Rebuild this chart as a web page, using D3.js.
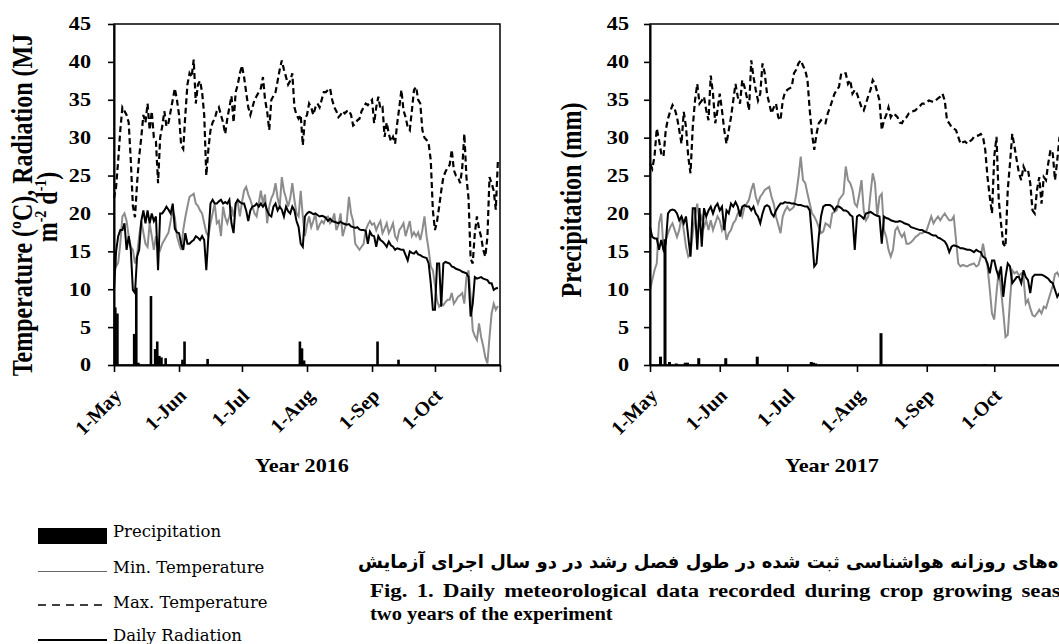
<!DOCTYPE html>
<html>
<head>
<meta charset="utf-8">
<script src="https://cdn.jsdelivr.net/npm/d3@7"></script>
<style>
  body { margin: 0; background: #fff; }
  svg { display: block; }
</style>
</head>
<body>
<svg id="fig" width="1059" height="644"></svg>
<script>
// daily values, index 0 = 1 May (184 days, to 31 Oct)
const tmax2016 = [
  22, 23.5, 27, 31, 34, 33.5, 33, 32, 27, 21,
  19.5, 24, 27.5, 30, 33, 32, 34.5, 31, 33.5, 30,
  29.5, 24, 30, 31.5, 33.5, 31.5, 32, 33.5, 35, 36.5,
  35, 33, 29, 28.5, 33, 37, 38.5, 38, 40.3, 34.5,
  37, 37.5, 36, 33, 25, 28.5, 31, 32, 32.5, 33.5,
  34, 33, 32, 30.5, 32.5, 34, 35.5, 32, 36, 37,
  38.5, 39.5, 38, 36, 34, 33, 34, 35, 35.5, 36,
  36.5, 38, 35, 33.5, 31, 35, 35.5, 36, 37.5, 39,
  40.2, 39, 38, 37, 37.5, 38.5, 34, 33, 32.5, 33,
  29, 32.5, 33, 34.5, 34, 33, 34, 34.5, 34, 35,
  36, 36, 36.3, 36.5, 35, 34, 33.5, 32.7, 33, 33.5,
  33.2, 33.5, 33.6, 33, 31.6, 31.8, 32.3, 32.5, 33.5, 34,
  34.5, 34.3, 34.7, 35, 31.9, 34, 35.4, 33.8, 34, 30.1,
  32, 30.5, 29.5, 30.1, 29.2, 31.9, 34, 36.3, 33.6, 32.7,
  31.4, 31, 33.6, 36.3, 36.7, 35, 34.5, 31, 30, 29.7,
  29.2, 27, 20.4, 17.8, 19, 20.9, 23, 24.8, 25.5, 26,
  26.4, 28.4, 25.7, 25, 24.8, 24, 26, 30.5, 24.8, 22,
  14, 13.4, 17.4, 19.6, 18, 16.9, 15.2, 14.3, 16.9, 24.8,
  24, 23, 20.5, 27
];
const tmin2016 = [
  15, 13, 13.5, 16, 19.6, 20, 19, 17, 15.6, 15.2,
  13.4, 14.5, 17, 19, 17.5, 16, 15.6, 18.7, 17, 15.2,
  17, 16, 15.2, 16, 16.5, 17, 17.5, 19, 20.4, 19.5,
  17, 16, 15.2, 17.8, 19.5, 20.9, 22.2, 22.4, 22.6, 21.3,
  21, 20.4, 20, 18.7, 17.5, 17, 18.7, 20, 21.3, 18.7,
  19, 17, 20.9, 19.5, 18.7, 19.6, 20.9, 19.6, 21.3, 21.5,
  19.6, 21.5, 23, 23.5, 22.5, 21.8, 20.9, 20, 19.6, 21.3,
  23, 21.3, 22.5, 18.7, 20.9, 22, 22.6, 24, 22, 20.9,
  24.8, 23, 22, 20.9, 22, 24, 21.8, 20, 19.6, 23,
  19.6, 17, 18.5, 19.6, 18.2, 19, 20, 17.8, 18.5, 19,
  18.7, 19.5, 19.6, 18.7, 19, 20, 17.8, 18.5, 20, 17,
  18, 19, 22.2, 20, 19, 16, 15.6, 15.2, 15.6, 16,
  17.8, 18.5, 19, 18.5, 18.7, 17.8, 18.5, 19, 17.4, 18,
  18.7, 17.4, 18, 18.7, 17, 16.5, 17.8, 18.2, 18.7, 17,
  18, 19, 17, 17.5, 17, 17.5, 16.5, 17.8, 19.6, 17,
  15.2, 13, 12.5, 10.5, 8.5, 7.7, 8.1, 7.9, 8.3, 8.6,
  8.6, 9.5, 8.1, 8.5, 9, 9.2, 9.5, 8.1, 11.6, 12.5,
  9, 4.6, 3.8, 3.3, 5.5, 3.7, 2.5, 1, 0.2, 3.7,
  6.8, 8.1, 7.3, 7.8
];
const rad2016 = [
  9.9, 15, 17, 17.8, 17.8, 18.7, 15.2, 17, 15.2, 9.9,
  9.5, 14.3, 15.2, 19, 20.4, 18.7, 20.4, 18.7, 20, 19,
  19.6, 12.5, 20, 20, 20.4, 20.9, 20.5, 20, 21.3, 18,
  17.5, 17.4, 16, 15.2, 17.4, 16, 16, 16.3, 16.5, 17,
  16.8, 16.5, 17, 16.5, 12.5, 17, 21.3, 21.8, 21.3, 21.3,
  21.6, 21.8, 21.3, 21.5, 21.3, 21.8, 18.7, 17.4, 21.3, 21.8,
  21.5, 21.3, 21.3, 20.4, 19, 20.4, 20.9, 21, 21.3, 20.9,
  21.3, 20.9, 21.3, 20.4, 19.8, 19.6, 20.9, 21.3, 20.4, 20.9,
  20.5, 19.6, 20.9, 20.3, 20, 20.9, 20.4, 19, 18.2, 16,
  15.6, 19.6, 20, 20.2, 20.1, 19.9, 20, 19.8, 19.6, 19.7,
  19.6, 19.4, 19, 19.3, 19, 18.9, 18.8, 18.7, 18.9, 18.7,
  18.6, 18.5, 18.6, 18.3, 18.2, 18.1, 18.2, 17.9, 17.8, 17.8,
  17.7, 16, 17.6, 17.1, 17, 15.6, 17, 16.5, 16.3, 16,
  15.6, 16.3, 15.8, 15.6, 15.2, 15.4, 15.3, 15.2, 15.2, 14.5,
  13.8, 15, 14.8, 14.7, 15, 14.6, 14.5, 14.3, 14.2, 14.1,
  13.4, 10.8, 7.3, 7.3, 13.4, 13.4, 7.7, 13.4, 13.6, 13.5,
  13.4, 13, 12.9, 12.7, 12.6, 12.5, 12.3, 12.2, 12.1, 11.6,
  6.4, 8.1, 11.6, 11.4, 11.5, 11.6, 11.4, 11.3, 11.2, 10.8,
  10.8, 9.9, 10.1, 10.2
];
const rainDay2016 = [0, 1, 9, 10, 11, 17, 19, 20, 21, 22, 24, 32, 33, 44, 88, 89, 90, 125, 135];
const rain2016 = [7.6, 6.8, 4.1, 10.2, 0.3, 9.1, 2.1, 3.1, 1.2, 1.0, 0.9, 0.7, 3.1, 0.8, 3.1, 2.2, 0.6, 3.1, 0.7];

const tmax2017 = [
  26.6, 25.9, 27.5, 31.2, 29.7, 27.9, 27.5, 31, 32.5, 33.5,
  34.3, 33.8, 32.7, 31, 29.2, 33.4, 31.4, 27.5, 25.3, 31.4,
  34.9, 37.1, 34.5, 34.9, 35.4, 33.6, 32.3, 38.2, 35.8, 31.9,
  33.6, 35.8, 33.6, 31, 29.2, 31, 32.7, 34.9, 37.1, 35.4,
  34.5, 37.6, 36.7, 35.4, 33.6, 40.2, 38, 36.3, 34.9, 35.8,
  39.8, 38.5, 35.8, 34.5, 33.2, 34, 34.5, 32.7, 32.3, 34.9,
  36, 36.3, 36.5, 36.7, 38.5, 39, 39.8, 40.2, 39.5, 38.9,
  37.6, 33.6, 30.5, 28.4, 30.5, 31.9, 32.3, 32, 31.9, 33.2,
  34, 34.9, 35.8, 36.3, 36.7, 38.5, 38.5, 38.5, 37.1, 37.6,
  35.8, 36.3, 35.8, 34.9, 34, 33.6, 34.5, 35.5, 36.3, 37.6,
  37.1, 36, 34.9, 31, 32.3, 33, 34, 32.7, 33.2, 33,
  32.7, 32, 31.9, 32.5, 32.7, 33.2, 33.4, 33.5, 33.6, 34,
  34.2, 34.5, 34.5, 34.7, 34.9, 34.8, 34.7, 34.9, 35.2, 35.4,
  35.8, 34.9, 32.3, 31.9, 31.4, 31.2, 31, 30.1, 29.2, 29.4,
  29.5, 29.2, 29.5, 29.7, 30.1, 30.2, 30.3, 30.5, 30.1, 28.4,
  24.8, 22.2, 20, 27.5, 30.1, 21.8, 18.7, 16, 15.6, 23.1,
  26.6, 30.5, 28.8, 27, 25.3, 24.4, 26.2, 25.5, 25.7, 24,
  20.4, 20, 23.1, 24.8, 21.3, 24.8, 24.4, 26.6, 28.4, 27.9,
  24.4, 27, 30.1, 29
];
const tmin2017 = [
  9.9, 11.2, 12.5, 13.4, 18.7, 20, 15.2, 16.5, 17.4, 18.2,
  18.7, 17.8, 16.9, 17.8, 19.6, 17.8, 15.6, 14.3, 14.7, 17.4,
  19.6, 21.3, 18.7, 19.6, 18.2, 19.1, 17.8, 19.1, 17.8, 18.7,
  19.6, 19.1, 17.8, 18.7, 16.5, 17.4, 17.8, 18.7, 19.1, 20,
  20.4, 19.6, 20.9, 21.3, 21.8, 23.1, 24, 22.2, 21.3, 22.2,
  22.6, 23.1, 23.3, 23.5, 22.2, 21.3, 19.6, 18.5, 17.4, 19.6,
  20.4, 20.9, 20.4, 20.6, 20.9, 22.6, 24.8, 27.5, 24.4, 24,
  22.6, 21.3, 20, 19.6, 19, 18.2, 17.4, 17.6, 18.7, 18.5,
  18.2, 20, 20.2, 20.4, 21.8, 22.2, 22.6, 26.2, 24.4, 24,
  23.1, 21.3, 20.9, 22.5, 24.4, 20.4, 19.1, 19.6, 22.6, 25.3,
  24, 19.6, 22.2, 22.6, 17.8, 16.9, 15.2, 14.3, 15.2, 17.8,
  18.2, 17.4, 16.9, 17.4, 16, 16, 16.2, 16.5, 16.9, 17.1,
  17.4, 17.4, 17.6, 17.8, 18.7, 19.6, 18.7, 19.2, 19.6, 19.1,
  19.6, 20, 19.5, 19.1, 19.1, 19.6, 16.5, 13.4, 13, 13.2,
  13.1, 13, 13.2, 13.3, 13.4, 13, 13.2, 14.3, 16, 14.3,
  13, 10, 6.8, 6, 9.5, 12.5, 10, 7, 3.7, 4,
  8.5, 12.5, 12.1, 12.3, 11.8, 12.1, 11.6, 8.1, 8.6, 7.5,
  6.6, 6.4, 6.8, 7.3, 6.8, 7.7, 7.5, 8.5, 9.5, 10.5,
  12, 12.2, 11.6, 11.8
];
const rad2017 = [
  18.2, 16.9, 16.7, 16.7, 15.2, 16.5, 15.2, 16, 20, 20.4,
  20.5, 20.4, 20, 19.1, 19.6, 18.7, 19.6, 16.9, 14.3, 20.7,
  20.7, 15.2, 20.7, 15.6, 20.7, 19.6, 20.4, 20.9, 20, 20.9,
  21.3, 20.4, 20.9, 17.8, 20.4, 20, 21.3, 20.9, 21.5, 20.9,
  19.6, 20.9, 21.1, 20.9, 20.9, 20.4, 20.9, 20, 19.6, 18.7,
  20, 20.9, 21.1, 20.9, 20, 19.6, 20.4, 20.9, 21.3, 21.3,
  21.5, 21.4, 21.4, 21.3, 21.3, 21.2, 21.1, 21.1, 21, 20.9,
  20.9, 20.4, 16.9, 13, 13.4, 16.9, 19.6, 20.9, 21.1, 21.1,
  21.1, 20.9, 20.4, 20.9, 20.9, 20.7, 20.4, 20.4, 20.2, 19.8,
  19.6, 15.2, 19.6, 19.8, 19.6, 19.3, 20, 20.1, 20.2, 20,
  19.8, 19.7, 19.6, 16, 19.6, 19.4, 19.3, 19.1, 19, 18.9,
  18.9, 19, 18.9, 18.7, 18.6, 18.5, 18.2, 18.1, 18, 17.9,
  17.8, 17.8, 17.6, 17.5, 17.4, 17.2, 17.1, 17.1, 16.8, 16.7,
  16.5, 16.3, 15.8, 14.9, 15.6, 15.8, 15.7, 15.6, 15.4, 15.4,
  15.3, 15.2, 15.2, 15.1, 14.9, 15.2, 15, 14.9, 14.3, 14.1,
  13.4, 12.1, 13.8, 13.8, 12.5, 11.6, 13, 9, 11.6, 13.4,
  13, 10.8, 11.2, 11.6, 11.6, 10.8, 12.5, 11.6, 11.2, 9.5,
  11.6, 11.9, 11.9, 11.9, 11.9, 11.8, 11.6, 11.4, 11, 10.8,
  9.9, 9, 9.5, 9.3
];
const rainDay2017 = [4, 6, 8, 11, 15, 16, 21, 33, 47, 71, 72, 73, 102, 148];
const rain2017 = [1.1, 16.6, 0.4, 0.2, 0.3, 0.3, 0.9, 0.9, 1.1, 0.4, 0.3, 0.2, 4.2, 0.1];

const monthDays = [0, 31, 61, 92, 123, 153, 184];
const monthLabels = ["1-May", "1-Jun", "1-Jul", "1-Aug", "1-Sep", "1-Oct", ""];
const yTicks = [0, 5, 10, 15, 20, 25, 30, 35, 40, 45];

const svg = d3.select("#fig");
const serif = "'Liberation Serif', 'Times New Roman', serif";
const SX = 1.2; // the figure's lettering is a bit wide

function wideText(x, y, str, size, anchor, sx) {
  return svg.append("text")
    .attr("transform", `translate(${x},${y}) scale(${sx || SX},1)`)
    .attr("text-anchor", anchor || "middle")
    .style("font-family", serif)
    .style("font-weight", "bold")
    .style("font-size", size + "px")
    .text(str);
}

function panel(o) {
  const x = d3.scaleLinear().domain([0, 184]).range([o.left, o.right]);
  const y = d3.scaleLinear().domain([0, 45]).range([365, 24]);
  const g = svg.append("g");

  g.append("rect")
    .attr("x", o.left).attr("y", y(45))
    .attr("width", o.right - o.left).attr("height", y(0) - y(45))
    .attr("fill", "none").attr("stroke", "#000").attr("stroke-width", 1.5);

  const line = d3.line().x((d, i) => x(i)).y(d => y(d));

  g.append("path").datum(o.tmin).attr("d", line)
    .attr("fill", "none").attr("stroke", "#8c8c8c").attr("stroke-width", 2);
  g.append("path").datum(o.rad).attr("d", line)
    .attr("fill", "none").attr("stroke", "#000").attr("stroke-width", 2);
  g.append("path").datum(o.tmax).attr("d", line)
    .attr("fill", "none").attr("stroke", "#000").attr("stroke-width", 2.2)
    .attr("stroke-dasharray", "6,3.5");

  g.selectAll("rect.rain")
    .data(o.rainDay)
    .join("rect")
    .attr("class", "rain")
    .attr("x", d => x(d))
    .attr("y", (d, i) => y(o.rain[i]))
    .attr("width", o.barW)
    .attr("height", (d, i) => y(0) - y(o.rain[i]))
    .attr("fill", "#000");

  const ya = g.append("g")
    .attr("transform", `translate(${o.left},0)`)
    .call(d3.axisLeft(y).tickValues(yTicks).tickSize(6).tickSizeOuter(0));
  ya.selectAll("text")
    .attr("x", 0)
    .attr("transform", `translate(${-o.labelGap},0) scale(${SX},1)`);

  const xa = g.append("g")
    .attr("transform", `translate(0,${y(0)})`)
    .call(d3.axisBottom(x).tickValues(monthDays).tickFormat((d, i) => monthLabels[i]).tickSize(7).tickSizeOuter(0));
  xa.selectAll("text")
    .attr("x", 0).attr("y", 0).attr("dy", 0)
    .attr("text-anchor", "end")
    .attr("transform", "translate(8,32) rotate(-45)");

  [ya, xa].forEach(a => {
    a.selectAll("text")
      .style("font-family", serif).style("font-weight", "bold")
      .style("font-size", "18.5px").attr("fill", "#000");
    a.select(".domain").attr("stroke-width", 2);
    a.selectAll(".tick line").attr("stroke-width", 1.6);
  });
  xa.selectAll("text").style("font-size", "20px");
}

panel({ left: 114, right: 500, tmax: tmax2016, tmin: tmin2016, rad: rad2016,
        rainDay: rainDay2016, rain: rain2016, barW: 2.6, labelGap: 23 });
panel({ left: 650, right: 1064, tmax: tmax2017, tmin: tmin2017, rad: rad2017,
        rainDay: rainDay2017, rain: rain2017, barW: 3, labelGap: 21 });

// axis titles
wideText(302, 472, "Year 2016", 18.5);
wideText(832, 472, "Year 2017", 18.5);

svg.append("text")
  .attr("transform", `translate(32,205) scale(${SX},1) rotate(-90)`)
  .attr("text-anchor", "middle")
  .style("font-family", serif).style("font-weight", "bold").style("font-size", "24px")
  .text("Temperature (ºC), Radiation (MJ");
const t2 = svg.append("text")
  .attr("transform", `translate(57,207) scale(${SX},1) rotate(-90)`)
  .attr("text-anchor", "middle")
  .style("font-family", serif).style("font-weight", "bold").style("font-size", "24px");
t2.append("tspan").text("m");
t2.append("tspan").attr("dy", -9).style("font-size", "14px").text("-2");
t2.append("tspan").attr("dy", 9).text(" d");
t2.append("tspan").attr("dy", -9).style("font-size", "14px").text("-1");
t2.append("tspan").attr("dy", 9).text(")");

svg.append("text")
  .attr("transform", `translate(581,200) scale(${SX},1) rotate(-90)`)
  .attr("text-anchor", "middle")
  .style("font-family", serif).style("font-weight", "bold").style("font-size", "24px")
  .text("Precipitation (mm)");

// legend
const lg = svg.append("g").style("font-family", "'DejaVu Serif', serif").style("font-size", "16.5px");
lg.append("rect").attr("x", 38).attr("y", 528).attr("width", 69).attr("height", 16).attr("fill", "#000");
lg.append("line").attr("x1", 38).attr("x2", 107).attr("y1", 571.5).attr("y2", 571.5)
  .attr("stroke", "#666").attr("stroke-width", 1.2);
lg.append("line").attr("x1", 38).attr("x2", 104).attr("y1", 605).attr("y2", 605)
  .attr("stroke", "#000").attr("stroke-width", 1.6).attr("stroke-dasharray", "8,6");
lg.append("line").attr("x1", 38).attr("x2", 107).attr("y1", 640).attr("y2", 640)
  .attr("stroke", "#000").attr("stroke-width", 2);
[["Precipitation", 537], ["Min. Temperature", 573], ["Max. Temperature", 608], ["Daily Radiation", 641]]
  .forEach(([s, yy]) => lg.append("text").attr("x", 113).attr("y", yy).text(s));

// caption
svg.append("text")
  .attr("x", 358).attr("y", 568)
  .style("font-family", "'DejaVu Sans', sans-serif").style("font-weight", "bold").style("font-size", "18px")
  .text("شکل ۱- داده‌های روزانه هواشناسی ثبت شده در طول فصل رشد در دو سال اجرای آزمایش");
wideText(370, 597, "Fig. 1. Daily meteorological data recorded during crop growing season in the", 19, "start", 1.2)
  .style("word-spacing", "3px");
wideText(370, 620, "two years of the experiment", 19, "start", 1.08);
</script>
</body>
</html>
